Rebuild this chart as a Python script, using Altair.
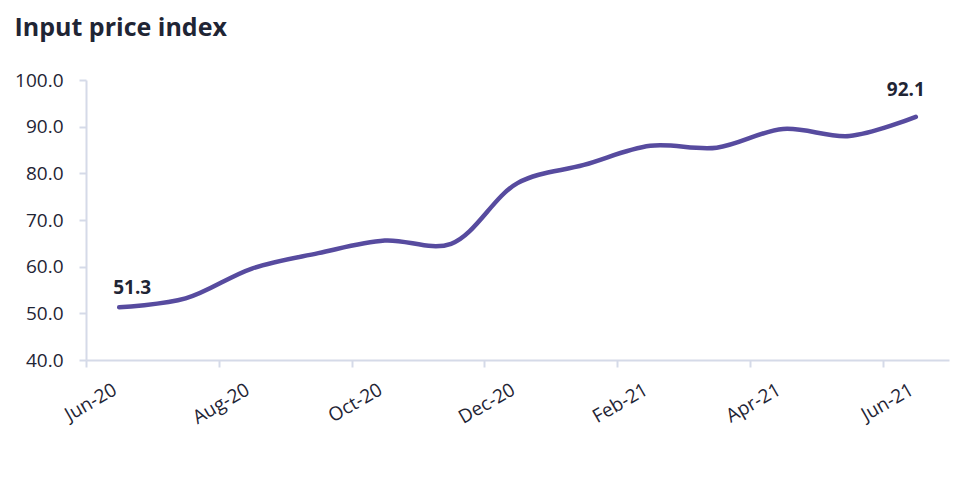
import altair as alt
import pandas as pd

months = ["Jun-20", "Jul-20", "Aug-20", "Sep-20", "Oct-20", "Nov-20", "Dec-20",
          "Jan-21", "Feb-21", "Mar-21", "Apr-21", "May-21", "Jun-21"]
values = [51.3, 53.2, 59.6, 62.9, 65.6, 64.9, 77.9, 81.8, 85.9, 85.5, 89.5, 88.0, 92.1]
tick_months = ["Jun-20", "Aug-20", "Oct-20", "Dec-20", "Feb-21", "Apr-21", "Jun-21"]
y_ticks = [40, 50, 60, 70, 80, 90, 100]

df = pd.DataFrame({"month": months, "value": values})

FONT = "Open Sans"
TEXT = "#1f2535"
AXIS = "#d5dae8"
LINE = "#574b9f"

W = 863
HALF_BAND = W / len(months) / 2

x_enc = alt.X(
    "month:O",
    sort=months,
    scale=alt.Scale(type="band", paddingInner=0, paddingOuter=0),
    bandPosition=0.5,
    axis=alt.Axis(
        title=None,
        values=tick_months,
        tickOffset=-HALF_BAND,
        labelOffset=HALF_BAND - 9,
        labelAngle=-30,
        labelAlign="right",
        labelBaseline="top",
        labelPadding=13,
        tickSize=7,
        tickColor=AXIS,
        domainColor=AXIS,
        domainWidth=2,
        tickWidth=2,
        labelFont=FONT,
        labelFontSize=19,
        labelColor=TEXT,
    ),
)
y_enc = alt.Y(
    "value:Q",
    scale=alt.Scale(domain=[40, 100], nice=False),
    axis=alt.Axis(
        title=None,
        values=y_ticks,
        format=".1f",
        grid=False,
        tickSize=7,
        tickColor=AXIS,
        domainColor=AXIS,
        domainWidth=2,
        tickWidth=2,
        labelPadding=16,
        labelFont=FONT,
        labelFontSize=19,
        labelColor=TEXT,
    ),
)

line = alt.Chart(df).mark_line(
    interpolate="catmull-rom", color=LINE, strokeWidth=4.5, strokeCap="round"
).encode(x=x_enc, y=y_enc)

first_label = alt.Chart(df).transform_filter(
    alt.datum.month == months[0]
).mark_text(
    font=FONT, fontSize=19, fontWeight="bold", color=TEXT, dx=13, dy=-19
).encode(x=alt.X("month:O", sort=months, bandPosition=0.5), y="value:Q",
         text=alt.Text("value:Q", format=".1f"))

last_label = alt.Chart(df).transform_filter(
    alt.datum.month == months[-1]
).mark_text(
    font=FONT, fontSize=19, fontWeight="bold", color=TEXT, dx=-10, dy=-27
).encode(x=alt.X("month:O", sort=months, bandPosition=0.5), y="value:Q",
         text=alt.Text("value:Q", format=".1f"))

chart = alt.layer(line, first_label, last_label).properties(
    width=W,
    height=280,
    autosize=alt.AutoSizeParams(type="none"),
    padding={"left": 78, "top": 72, "right": 12, "bottom": 134},
    title=alt.TitleParams(
        "Input price index",
        anchor="start",
        font=FONT,
        fontSize=25,
        fontWeight="bold",
        color=TEXT,
        offset=30,
    ),
).configure_view(stroke=None)

chart.save("out.html", embed_options={"renderer": "svg", "actions": False})
